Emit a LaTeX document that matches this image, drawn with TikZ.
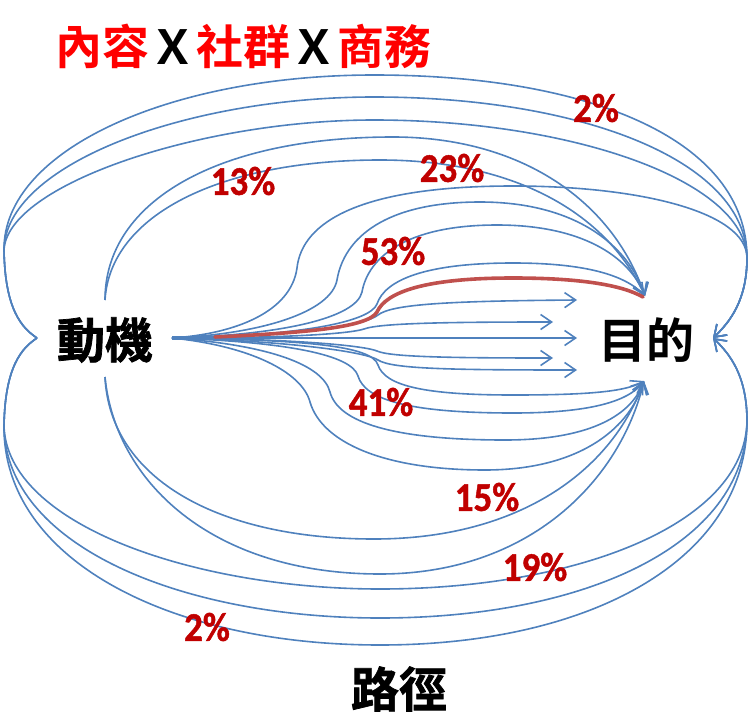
\documentclass[tikz,border=0pt]{standalone}
\usepackage{fontspec}
\usetikzlibrary{arrows.meta}
\newfontfamily\cjkfont{Noto Sans CJK TC}
\newfontfamily\cjkbold{Noto Sans CJK TC}[UprightFont={* Bold}]
\newfontfamily\cjkheavy{Noto Sans CJK TC}[UprightFont={* Bold},FakeBold=1.5]
\newfontfamily\pctfont{Carlito}[UprightFont={* Bold},FakeBold=1.2]
\definecolor{lineblue}{RGB}{79,129,189}
\definecolor{pathred}{RGB}{192,80,77}
\definecolor{pctred}{RGB}{192,0,0}
\definecolor{titlered}{RGB}{255,0,0}
\tikzset{
  flow/.style={draw=lineblue, line width=1.6pt},
  flowarrow/.style={flow, -{Straight Barb[length=11pt,width=15pt]}},
  redpath/.style={draw=pathred, line width=3.6pt, line cap=round},
  pct/.style={text=pctred, font=\pctfont\fontsize{37}{37}\selectfont, inner sep=0pt, yscale=1.1},
  bigword/.style={inner sep=0pt, font=\cjkheavy\fontsize{48}{48}\selectfont},
}
\begin{document}
\begin{tikzpicture}[x=1pt,y=-1pt]
\useasboundingbox (0,0) rectangle (750,728);
% anchor points
\coordinate (L) at (37,338);
\coordinate (R) at (713,338);
\coordinate (F) at (172,338);
\coordinate (Gt) at (645,296);
\coordinate (Gb) at (644,381);
\coordinate (Mt) at (105,300);
\coordinate (Mb) at (105,377);
\coordinate (A1) at (577,300);
\coordinate (A2) at (553,322);
\coordinate (A3) at (577,338);
\coordinate (A4) at (553,358);
\coordinate (A5) at (577,370);
\coordinate (Rs) at (215,337);
\coordinate (Re) at (643,297);

% outer top arcs
\draw[flowarrow] (L) .. controls (22,328) and (5,310) .. (4,250) .. controls (3,150) and (170,75) .. (374,75) .. controls (590,75) and (747,140) .. (747,258) .. controls (747,300) and (730,322) .. (R);
\draw[flowarrow] (L) .. controls (22,328) and (5,310) .. (4,250) .. controls (5,165) and (185,97) .. (374,97) .. controls (580,97) and (746,160) .. (747,258) .. controls (747,300) and (730,322) .. (R);
\draw[flowarrow] (L) .. controls (22,328) and (5,310) .. (4,250) .. controls (7,185) and (200,120) .. (374,120) .. controls (570,120) and (745,180) .. (747,258) .. controls (747,300) and (730,322) .. (R);
% outer bottom arcs
\draw[flowarrow] (L) .. controls (22,348) and (5,366) .. (4,426) .. controls (3,560) and (170,645) .. (380,645) .. controls (590,645) and (747,560) .. (747,421) .. controls (747,376) and (730,354) .. (R);
\draw[flowarrow] (L) .. controls (22,348) and (5,366) .. (4,426) .. controls (5,545) and (180,618) .. (380,618) .. controls (585,618) and (746,545) .. (747,421) .. controls (747,376) and (730,354) .. (R);
\draw[flowarrow] (L) .. controls (22,348) and (5,366) .. (4,426) .. controls (7,525) and (195,589) .. (380,589) .. controls (575,589) and (745,525) .. (747,421) .. controls (747,376) and (730,354) .. (R);

% arcs from the top and bottom of the motive
\draw[flowarrow] (Mt) .. controls (105,200) and (220,137) .. (393,137) .. controls (520,137) and (612,200) .. (Gt);
\draw[flowarrow] (Mt) .. controls (110,215) and (220,160) .. (380,160) .. controls (510,160) and (605,210) .. (Gt);
\draw[flowarrow] (Mb) .. controls (110,480) and (220,539) .. (374,539) .. controls (520,539) and (612,470) .. (Gb);
\draw[flowarrow] (Mb) .. controls (115,480) and (210,574) .. (380,574) .. controls (530,574) and (620,480) .. (Gb);

% upper fan
\draw[flowarrow] (F) .. controls (235,334) and (291,312) .. (297,268) .. controls (302,222) and (360,186) .. (513,186) .. controls (640,186) and (747,212) .. (747,258) .. controls (747,300) and (730,322) .. (R);
\draw[flowarrow] (F) .. controls (262,334) and (331,312) .. (337,280) .. controls (344,238) and (385,202) .. (480,202) .. controls (575,202) and (628,245) .. (Gt);
\draw[flowarrow] (F) .. controls (282,335) and (356,318) .. (362,292) .. controls (368,258) and (405,225) .. (497,225) .. controls (580,225) and (628,255) .. (Gt);
\draw[flowarrow] (F) .. controls (300,336) and (370,322) .. (377,304) .. controls (385,280) and (425,263) .. (513,263) .. controls (585,263) and (625,275) .. (Gt);
% straight arrows
\draw[flowarrow] (F) .. controls (300,336) and (366,325) .. (378,315) .. controls (392,304) and (450,301) .. (A1);
\draw[flowarrow] (F) .. controls (300,338) and (352,333) .. (364,329) .. controls (380,323) and (450,322) .. (A2);
\draw[flowarrow] (F) -- (A3);
\draw[flowarrow] (F) .. controls (300,339) and (365,346) .. (377,351) .. controls (390,357) and (450,358) .. (A4);
\draw[flowarrow] (F) .. controls (290,341) and (366,352) .. (378,360) .. controls (392,369) and (450,370) .. (A5);
% lower fan
\draw[flowarrow] (F) .. controls (300,340) and (372,345) .. (378,365) .. controls (385,386) and (425,395) .. (513,395) .. controls (585,395) and (625,392) .. (Gb);
\draw[flowarrow] (F) .. controls (288,342) and (352,355) .. (358,376) .. controls (365,400) and (410,413) .. (513,413) .. controls (588,413) and (628,402) .. (Gb);
\draw[flowarrow] (F) .. controls (270,345) and (323,365) .. (330,392) .. controls (338,422) and (392,440) .. (505,440) .. controls (585,440) and (630,418) .. (Gb);
\draw[flowarrow] (F) .. controls (250,346) and (302,372) .. (310,402) .. controls (322,443) and (385,470) .. (485,470) .. controls (575,470) and (628,432) .. (Gb);
% thick stub at the fan tip
\draw[lineblue, line width=4pt] (F) -- (205,338);
% highlighted path
\draw[redpath] (Rs) .. controls (300,333) and (368,328) .. (377,312) .. controls (386,292) and (425,278) .. (513,278) .. controls (580,278) and (622,285) .. (Re);

% texts
\node[anchor=west, inner sep=0pt, font=\cjkbold\fontsize{47}{47}\selectfont] (title) at (55,46)
  {\textcolor{titlered}{內容}Ｘ\textcolor{titlered}{社群}Ｘ\textcolor{titlered}{商務}};
\node[bigword] (motive) at (105,340) {動機};
\node[inner sep=0pt, font=\cjkbold\fontsize{48}{48}\selectfont] (goal) at (646,340) {目的};
\node[bigword] (route) at (399,689) {路徑};

\node[pct] (p2t) at (596,108) {2\%};
\node[pct] (p13) at (243,181) {13\%};
\node[pct] (p23) at (452,168) {23\%};
\node[pct] (p53) at (393,251) {53\%};
\node[pct] (p41) at (381,402) {41\%};
\node[pct] (p15) at (487,497) {15\%};
\node[pct] (p19) at (535,567) {19\%};
\node[pct] (p2b) at (207,627) {2\%};
\end{tikzpicture}
\end{document}
